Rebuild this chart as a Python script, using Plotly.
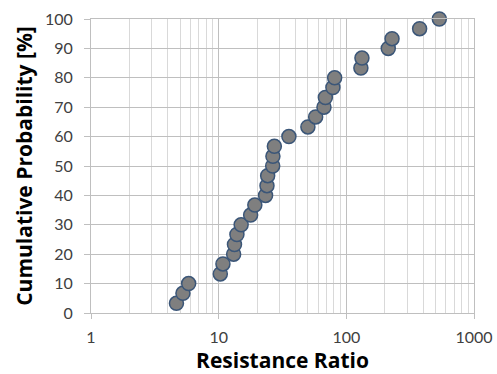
import plotly.graph_objects as go

resistance_ratio = [4.67, 5.25, 5.82, 10.3, 10.8, 13.1, 13.3, 13.9, 15.0, 17.8,
                    19.2, 23.3, 23.9, 24.2, 26.5, 26.6, 27.3, 35.5, 50.0, 57.5,
                    66.8, 68.5, 78.5, 81.0, 130, 132.5, 213, 228, 375, 535]
cumulative_prob = [3.3, 6.7, 10.0, 13.3, 16.7, 20.0, 23.3, 26.7, 30.0, 33.3,
                   36.7, 40.0, 43.3, 46.7, 50.0, 53.3, 56.7, 60.0, 63.3, 66.7,
                   70.0, 73.3, 76.7, 80.0, 83.3, 86.7, 90.0, 93.3, 96.7, 100.0]
x_tick_vals = [1, 10, 100, 1000]
x_tick_text = ["1", "10", "100", "1000"]
y_tick_vals = [0, 10, 20, 30, 40, 50, 60, 70, 80, 90, 100]

FONT = "Lato"
TITLE_FONT = "Open Sans"
major_grid = "#bfbfbf"
minor_grid = "#d9d9d9"

fig = go.Figure()
fig.add_trace(go.Scatter(
    x=resistance_ratio, y=cumulative_prob, mode="markers",
    marker=dict(size=14, color="#7f7f7f", line=dict(color="#3b5678", width=1.5)),
    cliponaxis=False, showlegend=False,
))

fig.update_layout(
    width=497, height=374, autosize=False,
    margin=dict(l=91, r=23, t=19, b=61),
    paper_bgcolor="white", plot_bgcolor="white",
    font=dict(family=FONT, color="#404040", size=16),
    xaxis=dict(
        type="log", range=[0, 3], automargin=False,
        tickvals=x_tick_vals, ticktext=x_tick_text,
        showgrid=True, gridcolor=major_grid, gridwidth=1,
        minor=dict(dtick="D1", showgrid=True, gridcolor=minor_grid, ticks=""),
        showline=True, linecolor=major_grid, linewidth=1, mirror=True,
        ticks="outside", ticklen=5, tickcolor=major_grid,
        ticklabelstandoff=5,
        zeroline=False,
        title=dict(text="<b>Resistance Ratio</b>", font=dict(family=TITLE_FONT, size=21, color="black"), standoff=5),
    ),
    yaxis=dict(
        range=[0, 100], tickvals=y_tick_vals, automargin=False,
        showgrid=True, gridcolor=major_grid, gridwidth=1,
        showline=True, linecolor=major_grid, linewidth=1, mirror=True,
        ticks="outside", ticklen=6, tickcolor=major_grid,
        ticklabelstandoff=8,
        zeroline=False,
        title=dict(text="<b>Cumulative Probability [%]</b>", font=dict(family=TITLE_FONT, size=21, color="black"), standoff=6),
    ),
)

fig.write_html("out.html", config={"displayModeBar": False},
               post_script="document.body.style.margin='0';document.body.style.overflow='hidden';")
